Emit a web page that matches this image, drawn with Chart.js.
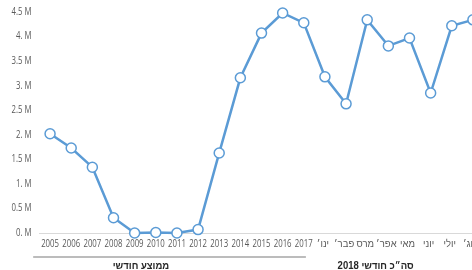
<!DOCTYPE html>
<html>
<head>
<meta charset="utf-8">
<script src="https://cdn.jsdelivr.net/npm/chart.js@4"></script>
<style>
  html, body { margin: 0; padding: 0; background: #fff; overflow: hidden; }
  #wrap { width: 490px; height: 270px; }
</style>
</head>
<body>
<div id="wrap"><canvas id="chart_canvas" width="490" height="270"></canvas></div>
<script>
// categories: yearly averages then 2018 months
const years = ['2005', '2006', '2007', '2008', '2009', '2010', '2011', '2012', '2013', '2014', '2015', '2016', '2017'];
const months = ['ינו׳', 'פבר׳', 'מרס', 'אפר׳', 'מאי', 'יוני', 'יולי', 'אוג׳'];

// values in millions
const yearValues = [2.02, 1.73, 1.34, 0.31, 0.0, 0.01, 0.0, 0.07, 1.63, 3.16, 4.07, 4.48, 4.28];
const monthValues = [3.18, 2.63, 4.34, 3.81, 3.97, 2.85, 4.22, 4.34];

const groupNames = ['ממוצע חודשי', 'סה״כ חודשי 2018'];
const yTicks = [0, 0.5, 1, 1.5, 2, 2.5, 3, 3.5, 4, 4.5];

const labels = years.concat(months);
const values = yearValues.concat(monthValues);

const ctx = document.getElementById('chart_canvas');
const fontFam = '"Open Sans", "DejaVu Sans", sans-serif';
const hebFam = '"Liberation Sans", "DejaVu Sans", sans-serif';

function fmtM(v) {
    return v % 1 === 0 ? v + '. M' : v + ' M';
}

// narrow text, the reference uses a condensed face
function narrowText(c, text, x, y, align, squeeze) {
    c.save();
    c.translate(x, y);
    c.scale(squeeze, 1);
    c.textAlign = align;
    c.fillText(text, 0, 0);
    c.restore();
}

const tickLabels = {
    id: 'tickLabels',
    afterDraw(chart) {
        const xs = chart.scales.x;
        const ys = chart.scales.y;
        const c = chart.ctx;
        c.save();
        c.fillStyle = '#595959';
        c.textBaseline = 'middle';
        xs.ticks.forEach((t, i) => {
            const lbl = xs.getLabelForValue(t.value);
            if (i < years.length) {
                c.font = '10px ' + fontFam;
                narrowText(c, lbl, xs.getPixelForTick(i), 244, 'center', 0.78);
            } else {
                c.font = '10px ' + hebFam;
                narrowText(c, lbl, xs.getPixelForTick(i) - 2, 244, 'center', 0.95);
            }
        });
        c.font = '10px ' + fontFam;
        ys.ticks.forEach(t => {
            narrowText(c, fmtM(t.value), ys.right - 8, ys.getPixelForValue(t.value), 'right', 0.78);
        });

        // group bracket and names under the axis
        const step = xs.getPixelForValue(1) - xs.getPixelForValue(0);
        c.strokeStyle = '#a6a6a6';
        c.lineWidth = 1.5;
        c.beginPath();
        c.moveTo(xs.getPixelForValue(0) - step * 0.8, 257);
        c.lineTo(xs.getPixelForValue(years.length - 1) + step * 0.1, 257);
        c.stroke();
        c.fillStyle = '#262626';
        c.font = 'bold 10px ' + hebFam;
        narrowText(c, groupNames[0], xs.getPixelForValue(0) + step * 4.3, 266, 'center', 0.95);
        narrowText(c, groupNames[1], xs.getPixelForValue(0) + step * 15.4, 266, 'center', 0.95);
        c.restore();
    }
};

const chartDraw = new Chart(ctx, {
    type: 'line',
    data: {
        labels: labels,
        datasets: [{
            data: values,
            borderColor: '#5b9bd5',
            borderWidth: 2.5,
            pointRadius: 5,
            pointBorderWidth: 1.5,
            pointBackgroundColor: '#ffffff',
            pointBorderColor: '#5b9bd5',
            tension: 0,
            clip: false
        }]
    },
    options: {
        responsive: false,
        animation: false,
        layout: { padding: { top: 12, right: 4, left: 0, bottom: 0 } },
        plugins: { legend: { display: false }, tooltip: { enabled: false } },
        scales: {
            x: {
                offset: true,
                grid: { display: false, drawTicks: false },
                border: { display: true, color: '#d9d9d9', width: 1 },
                ticks: { display: false, autoSkip: false },
                afterFit(scale) { scale.height = 37; }
            },
            y: {
                min: 0,
                max: 4.5,
                grid: { display: false, drawTicks: false },
                border: { display: false },
                afterBuildTicks(scale) { scale.ticks = yTicks.map(v => ({ value: v })); },
                ticks: { display: false },
                afterFit(scale) { scale.width = 39.5; }
            }
        }
    },
    plugins: [tickLabels]
});
</script>
</body>
</html>
